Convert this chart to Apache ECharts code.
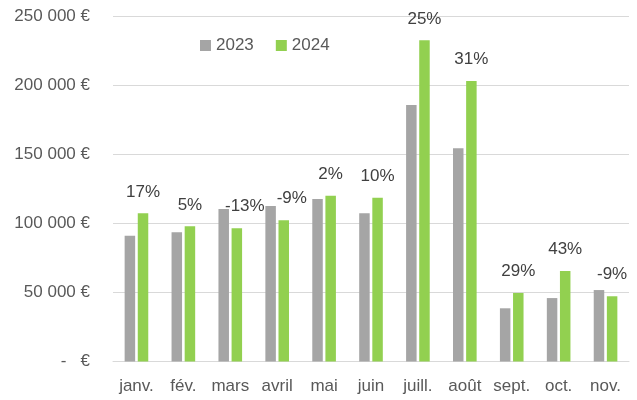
<!DOCTYPE html>
<html>
<head>
<meta charset="utf-8">
<script src="https://cdn.jsdelivr.net/npm/echarts@6/dist/echarts.min.js"></script>
<style>
html,body{margin:0;padding:0;background:#fff;}
#chart{width:637px;height:400px;}
</style>
</head>
<body>
<div id="chart"></div>
<script>
const months = ['janv.', 'fév.', 'mars', 'avril', 'mai', 'juin', 'juill.', 'août', 'sept.', 'oct.', 'nov.'];
const sales2023 = [91000, 93500, 110300, 112500, 117600, 107200, 185600, 154300, 38500, 45900, 51700];
const sales2024 = [107200, 97800, 96400, 102200, 120000, 118500, 232400, 203000, 49600, 65500, 47200];
const growthLabels = ['17%', '5%', '-13%', '-9%', '2%', '10%', '25%', '31%', '29%', '43%', '-9%'];
const labelShift = [0, 0, 8, 8, 0, 0, 0, 0, 0, 0, 0];

const FONT = 'Liberation Sans';
const chart = echarts.init(document.getElementById('chart'), null, {renderer: 'canvas'});

function fmtEuro(v) {
  if (v === 0) return '-   €';
  return String(v).replace(/\B(?=(\d{3})+(?!\d))/g, ' ') + ' €';
}

chart.setOption({
  animation: false,
  backgroundColor: '#ffffff',
  textStyle: {fontFamily: FONT},
  legend: {
    left: 200,
    top: 37,
    padding: 0,
    itemWidth: 11,
    itemHeight: 11,
    itemGap: 22,
    icon: 'rect',
    textStyle: {fontFamily: FONT, fontSize: 17, color: '#595959'},
    data: ['2023', '2024']
  },
  grid: {left: 113, right: 8, top: 16, bottom: 38.5, containLabel: false},
  xAxis: {
    type: 'category',
    data: months,
    axisLine: {show: true, lineStyle: {color: '#D9D9D9', width: 1}},
    axisTick: {show: false},
    axisLabel: {fontFamily: FONT, fontSize: 17, color: '#595959', margin: 16, interval: 0}
  },
  yAxis: {
    type: 'value',
    min: 0,
    max: 250000,
    interval: 50000,
    axisLine: {show: false},
    axisTick: {show: false},
    splitLine: {lineStyle: {color: '#D9D9D9', width: 1}},
    axisLabel: {fontFamily: FONT, fontSize: 17, color: '#595959', margin: 23, formatter: fmtEuro}
  },
  series: [
    {
      name: '2023',
      type: 'bar',
      data: sales2023,
      barWidth: 10.5,
      barGap: '25%',
      itemStyle: {color: '#A5A5A5'}
    },
    {
      name: '2024',
      type: 'bar',
      data: sales2024.map((v, i) => ({
        value: v,
        label: {offset: [labelShift[i], 0]}
      })),
      barWidth: 10.5,
      barGap: '25%',
      itemStyle: {color: '#92D050'},
      label: {
        show: true,
        position: 'top',
        distance: 13,
        fontFamily: FONT,
        fontSize: 17,
        color: '#404040',
        formatter: p => growthLabels[p.dataIndex]
      }
    }
  ]
});
</script>
</body>
</html>
